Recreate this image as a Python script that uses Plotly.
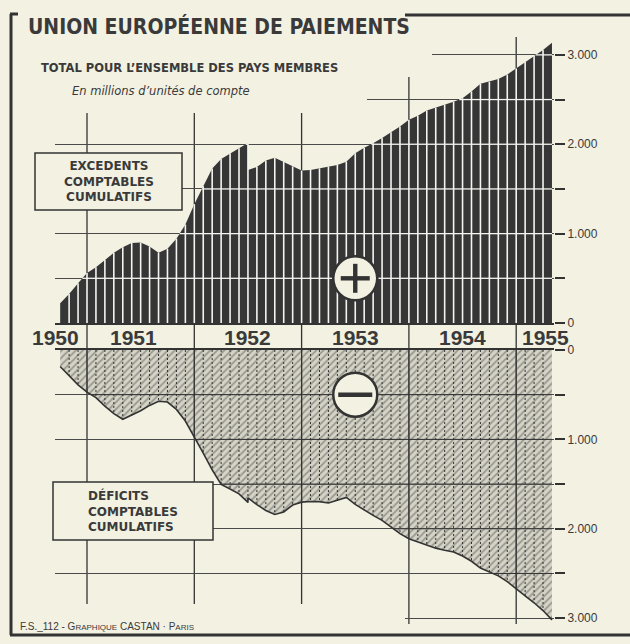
import numpy as np
import plotly.graph_objects as go

# ------------------------------------------------------------------ data
# end-of-month dates (June 1952 appears twice: before / after the adjustment)
months = ["1950-09", "1950-10", "1950-11", "1950-12",
          "1951-01", "1951-02", "1951-03", "1951-04", "1951-05", "1951-06",
          "1951-07", "1951-08", "1951-09", "1951-10", "1951-11", "1951-12",
          "1952-01", "1952-02", "1952-03", "1952-04", "1952-05", "1952-06",
          "1952-06", "1952-07", "1952-08", "1952-09", "1952-10", "1952-11", "1952-12",
          "1953-01", "1953-02", "1953-03", "1953-04", "1953-05", "1953-06",
          "1953-07", "1953-08", "1953-09", "1953-10", "1953-11", "1953-12",
          "1954-01", "1954-02", "1954-03", "1954-04", "1954-05", "1954-06",
          "1954-07", "1954-08", "1954-09", "1954-10", "1954-11", "1954-12",
          "1955-01", "1955-02", "1955-03", "1955-04"]

# Excédents comptables cumulatifs (millions d'unités de compte)
excedents = [220, 325, 444, 560,
             625, 707, 785, 848, 895, 900, 857, 787, 830, 944, 1102, 1330,
             1530, 1730, 1835, 1900, 1955, 2015,
             1713, 1746, 1818, 1850, 1805, 1752, 1706,
             1712, 1730, 1752, 1768, 1805, 1900, 1960, 2010, 2070, 2135, 2200, 2275,
             2320, 2378, 2410, 2445, 2475, 2515, 2590, 2678, 2700, 2730, 2780, 2848,
             2920, 2988, 3055, 3135]

# Déficits comptables cumulatifs (millions d'unités de compte)
deficits = [185, 290, 390, 472,
            532, 628, 712, 775, 731, 680, 620, 574, 582, 665, 795, 970,
            1155, 1340, 1505, 1556, 1610, 1705,
            1655, 1730, 1795, 1840, 1812, 1735, 1702,
            1695, 1697, 1712, 1682, 1650, 1728, 1793, 1850, 1906, 1980, 2055, 2112,
            2147, 2180, 2217, 2240, 2260, 2305, 2364, 2440, 2487, 2527, 2592, 2675,
            2750, 2828, 2915, 3020]

year_labels = ["1950", "1951", "1952", "1953", "1954", "1955"]
year_label_pos = [1950.71, 1951.43, 1952.5, 1953.5, 1954.5, 1955.27]
year_bounds = [1951, 1952, 1953, 1954, 1955]

y_tick_vals = [0, 500, 1000, 1500, 2000, 2500, 3000]
y_tick_text = ["0", "", "1.000", "", "2.000", "", "3.000"]
grid_levels = [500, 1000, 1500, 2000, 2500, 3000]

# ------------------------------------------------------------------ style / geometry
PAPER = "#f3f1e2"
INK = "#333333"
DARK = "#363636"
TXT = "#3a3a3a"
W, H = 630, 644
L, R, T, B = 55, 554, 37, 624          # plot area in pixels
Y0_TOP, Y0_BOT = 323, 350               # pixel rows of the two zero lines
PX_PER_YEAR, X1951 = 107.3, 87


def px(p):
    return (p - L) / (R - L)


def py(q):
    return (B - q) / (B - T)


def t_at(p):
    return 1951 + (p - X1951) / PX_PER_YEAR


def dec_year(s):
    y, m = s.split("-")
    return int(y) + int(m) / 12.0


t = np.array([dec_year(s) for s in months])
exc = np.array(excedents, float)
dfc = np.array(deficits, float)

top_range = [0, 3200]
bot_max = (B - Y0_BOT) / ((Y0_TOP - T) / top_range[1])


def level_segments(tt, vv, level):
    xs, ys = [], []
    for i in range(len(tt) - 1):
        t0, t1, v0, v1 = tt[i], tt[i + 1], vv[i], vv[i + 1]
        if t1 == t0:
            continue
        if v0 >= level and v1 >= level:
            a, b = t0, t1
        elif v0 >= level > v1:
            a, b = t0, t0 + (t1 - t0) * (v0 - level) / (v0 - v1)
        elif v1 >= level > v0:
            a, b = t0 + (t1 - t0) * (level - v0) / (v1 - v0), t1
        else:
            continue
        xs += [a, b, None]
        ys += [level, level, None]
    return xs, ys


def month_verticals(tt, vv, select):
    xs, ys = [], []
    uniq = sorted(set(tt.tolist()))
    for u in uniq[1:-1]:
        if not select(u):
            continue
        v = vv[tt == u].max()
        xs += [u, u, None]
        ys += [0, v, None]
    return xs, ys


fig = go.Figure()

# ---------------- top panel : excédents
fig.add_trace(go.Scatter(x=t, y=exc, mode="lines", line=dict(width=0, color=DARK),
                         fill="tozeroy", fillcolor=DARK, xaxis="x", yaxis="y",
                         hoverinfo="skip"))
vx, vy = month_verticals(t, exc, lambda u: True)
fig.add_trace(go.Scatter(x=vx, y=vy, mode="lines", line=dict(color="#f4f4f0", width=1.6),
                         xaxis="x", yaxis="y", hoverinfo="skip"))
hx, hy = [], []
for lv in grid_levels:
    a, b = level_segments(t, exc, lv)
    hx += a
    hy += b
fig.add_trace(go.Scatter(x=hx, y=hy, mode="lines", line=dict(color="#f4f4f0", width=1.3),
                         xaxis="x", yaxis="y", hoverinfo="skip"))

# ---------------- bottom panel : déficits
fig.add_trace(go.Scatter(x=t, y=dfc, mode="lines", line=dict(width=1.6, color=INK),
                         fill="tozeroy", fillcolor="rgba(150,148,138,0.35)",
                         fillpattern=dict(shape="/", fgcolor="#5e5e5a",
                                          bgcolor="rgba(170,168,158,0.40)",
                                          size=5, solidity=0.35),
                         xaxis="x2", yaxis="y2", hoverinfo="skip"))
dx, dy = month_verticals(t, dfc, lambda u: abs(u - round(u)) > 1e-6)
fig.add_trace(go.Scatter(x=dx, y=dy, mode="lines", line=dict(color=INK, width=1, dash="2px,2px"),
                         xaxis="x2", yaxis="y2", hoverinfo="skip"))
sx, sy = month_verticals(t, dfc, lambda u: abs(u - round(u)) < 1e-6)
fig.add_trace(go.Scatter(x=sx, y=sy, mode="lines", line=dict(color=INK, width=1.2),
                         xaxis="x2", yaxis="y2", hoverinfo="skip"))
gx, gy = [], []
for lv in grid_levels:
    a, b = level_segments(t, dfc, lv)
    gx += a
    gy += b
fig.add_trace(go.Scatter(x=gx, y=gy, mode="lines", line=dict(color=INK, width=1),
                         xaxis="x2", yaxis="y2", hoverinfo="skip"))

# ---------------- shapes
shapes = []
for yb in year_bounds:
    shapes.append(dict(type="line", xref="x", yref="paper", x0=yb, x1=yb, y0=0, y1=1,
                       layer="below", line=dict(color=INK, width=1.3)))

# masks around the title block and the footer (grid is trimmed there)
for (x0, y0, x1, y1) in [(13, -5, 367, 113), (367, -5, 432, 77), (13, 604, 405, 633)]:
    shapes.append(dict(type="rect", xref="paper", yref="paper", x0=px(x0), x1=px(x1),
                       y0=py(y1), y1=py(y0), layer="above", fillcolor=PAPER,
                       line=dict(width=0)))

# frame
frame = [(11, 14, 11, 635), (10, 14, 18, 14), (10, 635, 630, 635), (405, 15, 630, 15)]
for (x0, y0, x1, y1) in frame:
    shapes.append(dict(type="line", xref="paper", yref="paper", x0=px(x0), x1=px(x1),
                       y0=py(y0), y1=py(y1), layer="above", line=dict(color=INK, width=3)))

# label boxes
for (x0, y0, x1, y1) in [(35, 153, 182, 210), (53, 482, 213, 540)]:
    shapes.append(dict(type="rect", xref="paper", yref="paper", x0=px(x0), x1=px(x1),
                       y0=py(y1), y1=py(y0), layer="above", fillcolor=PAPER,
                       line=dict(color=INK, width=1.5)))

# plus / minus circles
for yr in ["y", "y2"]:
    shapes.append(dict(type="circle", xref="x", yref=yr, xsizemode="pixel", ysizemode="pixel",
                       xanchor=1953.5, yanchor=500, x0=-22, x1=22, y0=-22, y1=22,
                       layer="above", fillcolor=PAPER, line=dict(color=INK, width=2.5)))
bars = [("y", -14.5, 14.5, -2.2, 2.2), ("y", -2.2, 2.2, -14.5, 14.5), ("y2", -17, 17, -2.2, 2.2)]
for (yr, x0, x1, y0, y1) in bars:
    shapes.append(dict(type="rect", xref="x", yref=yr, xsizemode="pixel", ysizemode="pixel",
                       xanchor=1953.5, yanchor=500, x0=x0, x1=x1, y0=y0, y1=y1,
                       layer="above", fillcolor=INK, line=dict(width=0)))

# ---------------- annotations
ann = []
ann.append(dict(text="UNION EUROPÉENNE DE PAIEMENTS", xref="paper", yref="paper",
                x=px(26), y=py(12), xanchor="left", yanchor="top", showarrow=False,
                font=dict(family="DejaVu Sans Condensed, Liberation Sans Narrow, DejaVu Sans",
                          size=21, weight=700, color=TXT)))
ann.append(dict(text="TOTAL POUR L’ENSEMBLE DES PAYS MEMBRES", xref="paper", yref="paper",
                x=px(39), y=py(59), xanchor="left", yanchor="top", showarrow=False,
                font=dict(family="DejaVu Sans", size=11.5, weight=700, color=TXT)))
ann.append(dict(text="<i>En millions d’unités de compte</i>", xref="paper", yref="paper",
                x=px(70), y=py(82), xanchor="left", yanchor="top", showarrow=False,
                font=dict(family="DejaVu Sans", size=11.5, color=TXT)))
ann.append(dict(text="EXCEDENTS<br>COMPTABLES<br>CUMULATIFS", xref="paper", yref="paper",
                x=px(108.5), y=py(181.5), xanchor="center", yanchor="middle", showarrow=False,
                align="center",
                font=dict(family="DejaVu Sans", size=12, weight=700, color=TXT)))
ann.append(dict(text="DÉFICITS<br>COMPTABLES<br>CUMULATIFS", xref="paper", yref="paper",
                x=px(133), y=py(511), xanchor="center", yanchor="middle", showarrow=False,
                align="left",
                font=dict(family="DejaVu Sans", size=12, weight=700, color=TXT)))
ann.append(dict(text="F.S._112 - G<span style='font-size:8px'>RAPHIQUE</span> CASTAN · P"
                     "<span style='font-size:8px'>ARIS</span>",
                xref="paper", yref="paper", x=px(18), y=py(626), xanchor="left",
                yanchor="middle", showarrow=False,
                font=dict(family="Liberation Sans", size=10, color=TXT)))
for lab, pos in zip(year_labels, year_label_pos):
    ann.append(dict(text=lab, xref="x", yref="paper", x=pos, y=py(337),
                    xanchor="center", yanchor="middle", showarrow=False,
                    font=dict(family="Liberation Sans", size=21, weight=700, color=TXT)))

# ---------------- layout
yaxis_common = dict(side="right", tickvals=y_tick_vals, ticktext=y_tick_text,
                    ticks="outside", ticklen=10, tickwidth=1.5, tickcolor=INK,
                    showgrid=True, gridcolor="#4a4a4a", gridwidth=1,
                    zeroline=False, showline=False,
                    tickfont=dict(family="Liberation Sans", size=12, color=TXT))

fig.update_layout(
    width=W, height=H,
    margin=dict(l=L, r=W - R, t=T, b=H - B),
    paper_bgcolor=PAPER, plot_bgcolor="rgba(0,0,0,0)",
    showlegend=False,
    xaxis=dict(domain=[0, 1], anchor="y", range=[t_at(L), t_at(R)],
               showticklabels=False, ticks="",
               showgrid=False, zeroline=False, showline=True, linecolor=INK, linewidth=1.6),
    xaxis2=dict(domain=[0, 1], anchor="y2", matches="x", side="top",
                showticklabels=False, ticks="", showgrid=False, zeroline=False,
                showline=True, linecolor=INK, linewidth=1.6),
    yaxis=dict(domain=[py(Y0_TOP), 1], anchor="x", range=top_range, **yaxis_common),
    yaxis2=dict(domain=[0, py(Y0_BOT)], anchor="x2", range=[bot_max, 0], **yaxis_common),
    shapes=shapes,
    annotations=ann,
)

fig.write_html("out.html", config={"displayModeBar": False},
               post_script="document.body.style.margin='0px';")
